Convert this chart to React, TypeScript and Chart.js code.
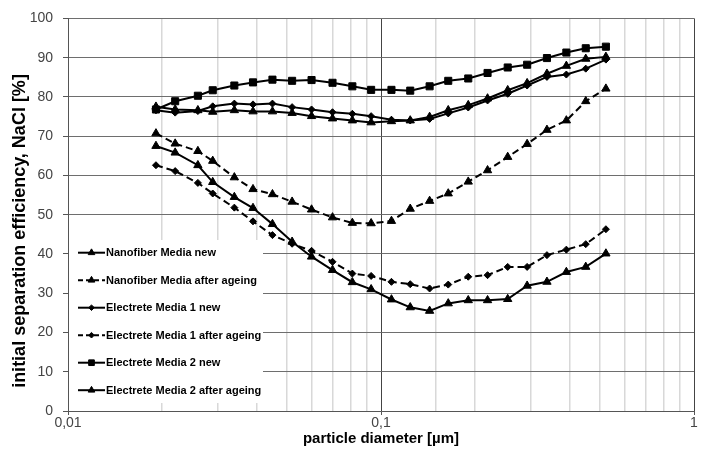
import React, { useEffect, useRef } from "react";
import { Chart, registerables } from "chart.js";
import { drawPoint } from "chart.js/helpers";

Chart.register(...registerables);

const diameters = [0.0191, 0.022, 0.026, 0.029, 0.034, 0.039, 0.045, 0.052, 0.06, 0.07, 0.081, 0.093, 0.108, 0.124, 0.143, 0.164, 0.19, 0.219, 0.254, 0.293, 0.339, 0.391, 0.451, 0.523];

const nanoNew = [67.5, 65.8, 62.6, 58.3, 54.5, 51.7, 47.6, 43.1, 39.3, 35.9, 32.8, 31.0, 28.4, 26.4, 25.5, 27.4, 28.2, 28.2, 28.5, 31.9, 32.9, 35.4, 36.7, 40.1];
const nanoAged = [70.7, 68.1, 66.2, 63.7, 59.5, 56.5, 55.2, 53.3, 51.3, 49.3, 47.9, 47.8, 48.4, 51.5, 53.5, 55.4, 58.4, 61.3, 64.7, 68.0, 71.6, 74.0, 78.9, 82.1];
const e1New = [76.6, 76.0, 76.4, 77.6, 78.3, 78.1, 78.3, 77.4, 76.8, 76.1, 75.7, 75.1, 74.2, 74.0, 74.4, 75.8, 77.3, 79.1, 80.8, 82.9, 85.1, 85.7, 87.2, 89.5];
const e1Aged = [62.6, 61.1, 58.1, 55.4, 51.8, 48.3, 44.8, 42.6, 40.8, 38.0, 35.0, 34.4, 32.9, 32.3, 31.2, 32.2, 34.2, 34.6, 36.7, 36.7, 39.7, 41.1, 42.5, 46.3];
const e2New = [76.8, 78.9, 80.3, 81.7, 82.9, 83.7, 84.4, 84.1, 84.3, 83.6, 82.7, 81.8, 81.8, 81.6, 82.7, 84.1, 84.7, 86.1, 87.5, 88.2, 89.9, 91.3, 92.4, 92.8];
const e2Aged = [77.5, 76.8, 76.6, 76.2, 76.6, 76.3, 76.3, 75.9, 75.1, 74.5, 74.0, 73.5, 73.8, 74.0, 74.9, 76.6, 77.9, 79.6, 81.7, 83.5, 85.9, 87.9, 89.7, 90.2];

const seriesLabels = [
  "Nanofiber Media new",
  "Nanofiber Media after ageing",
  "Electrete Media 1 new",
  "Electrete Media 1 after ageing",
  "Electrete Media 2 new",
  "Electrete Media 2 after ageing",
];

const yTitle = "initial separation efficiency, NaCl [%]";
const xTitle = "particle diameter [µm]";

const FONT = "Arial, 'Liberation Sans', Helvetica, sans-serif";
const NARROW = "'Liberation Sans Narrow', 'Arial Narrow'";

const isDecade = (v: number) => {
  if (!v || v <= 0) return false;
  const l = Math.log10(v);
  return Math.abs(l - Math.round(l)) < 1e-6;
};

const legendPlugin = {
  id: "customLegend",
  afterDraw(chart: any) {
    const ctx = chart.ctx as CanvasRenderingContext2D;
    ctx.save();
    ctx.fillStyle = "#ffffff";
    ctx.fillRect(69, 240, 194, 163);
    // choose a narrow font if available, otherwise fall back to a smaller regular one
    ctx.font = `bold 12.5px ${NARROW}, ${FONT}`;
    let legendFont = ctx.font;
    if (ctx.measureText(seriesLabels[1]).width > 150) legendFont = `bold 11px ${FONT}`;
    chart.data.datasets.forEach((ds: any, i: number) => {
      const y = 252.7 + i * 27.5;
      ctx.strokeStyle = "#000";
      ctx.lineWidth = 2;
      ctx.setLineDash(ds.borderDash && ds.borderDash.length ? [5, 3] : []);
      ctx.beginPath();
      ctx.moveTo(78, y);
      ctx.lineTo(105, y);
      ctx.stroke();
      ctx.setLineDash([]);
      ctx.fillStyle = "#000";
      ctx.lineWidth = 1;
      drawPoint(ctx, { pointStyle: ds.pointStyle, rotation: 0, radius: ds.pointRadius * 0.8, borderWidth: 1 } as any, 91.5, y);
      ctx.fillStyle = "#000";
      ctx.font = legendFont;
      ctx.textAlign = "left";
      ctx.textBaseline = "middle";
      ctx.fillText(ds.label, 106, y + 0.5);
    });
    // y axis title
    ctx.translate(20, 231);
    ctx.rotate(-Math.PI / 2);
    ctx.font = `bold 18px ${FONT}`;
    ctx.fillStyle = "#000";
    ctx.textAlign = "center";
    ctx.textBaseline = "middle";
    ctx.fillText(yTitle, 0, 0);
    ctx.restore();
  },
};

export default function App() {
  const ref = useRef<HTMLCanvasElement | null>(null);

  useEffect(() => {
    if (!ref.current) return;
    const mk = (vals: number[]) => diameters.map((d, i) => ({ x: d, y: vals[i] }));
    const base = {
      borderColor: "#000",
      backgroundColor: "#000",
      pointBackgroundColor: "#000",
      pointBorderColor: "#000",
      pointBorderWidth: 1,
      borderWidth: 2,
      tension: 0,
      fill: false,
    };
    const chart = new Chart(ref.current, {
      type: "line",
      data: {
        datasets: [
          { ...base, label: seriesLabels[0], data: mk(nanoNew), pointStyle: "triangle", pointRadius: 4.8, borderDash: [] },
          { ...base, label: seriesLabels[1], data: mk(nanoAged), pointStyle: "triangle", pointRadius: 4.8, borderDash: [7, 4] },
          { ...base, label: seriesLabels[2], data: mk(e1New), pointStyle: "rectRot", pointRadius: 3.5, borderDash: [] },
          { ...base, label: seriesLabels[3], data: mk(e1Aged), pointStyle: "rectRot", pointRadius: 3.5, borderDash: [7, 4] },
          { ...base, label: seriesLabels[4], data: mk(e2New), pointStyle: "rect", pointRadius: 5, borderDash: [] },
          { ...base, label: seriesLabels[5], data: mk(e2Aged), pointStyle: "triangle", pointRadius: 4.8, borderDash: [] },
        ] as any,
      },
      options: {
        animation: false,
        responsive: false,
        maintainAspectRatio: false,
        layout: { padding: { top: 18, right: 10, left: 0, bottom: 0 } },
        plugins: {
          legend: { display: false },
          tooltip: { enabled: false },
        },
        scales: {
          x: {
            type: "logarithmic",
            min: 0.01,
            max: 1,
            afterFit: (scale: any) => {
              scale.height = 39;
            },
            border: { display: true, color: "#555", width: 1 },
            grid: {
              color: (c: any) => (isDecade(c.tick?.value) ? "#444" : "#d8d8d8"),
              lineWidth: (c: any) => (isDecade(c.tick?.value) ? 1 : 1.5),
              tickColor: (c: any) => (isDecade(c.tick?.value) ? "#555" : "rgba(0,0,0,0)"),
              tickLength: 4,
              drawTicks: true,
            },
            ticks: {
              autoSkip: false,
              maxRotation: 0,
              minRotation: 0,
              padding: 0,
              color: "#444",
              font: { family: FONT, size: 14 },
              callback: (v: any) => (isDecade(Number(v)) ? String(Number(v)).replace(".", ",") : ""),
            },
            title: {
              display: true,
              text: xTitle,
              color: "#000",
              font: { family: FONT, size: 15, weight: "bold" },
              padding: { top: 0, bottom: 2 },
            },
          },
          y: {
            min: 0,
            max: 100,
            afterFit: (scale: any) => {
              scale.width = 68;
            },
            border: { display: true, color: "#555", width: 1 },
            grid: {
              color: "#6e6e6e",
              lineWidth: 1,
              tickColor: "#555",
              tickLength: 5,
              drawTicks: true,
            },
            ticks: {
              stepSize: 10,
              padding: 10,
              color: "#444",
              font: { family: FONT, size: 14 },
            },
          },
        },
      } as any,
      plugins: [legendPlugin],
    });
    return () => chart.destroy();
  }, []);

  return (
    <div style={{ position: "fixed", left: 0, top: 0, width: 704, height: 450, background: "#fff" }}>
      <canvas ref={ref} width={704} height={450} style={{ width: 704, height: 450, display: "block" }} />
    </div>
  );
}
